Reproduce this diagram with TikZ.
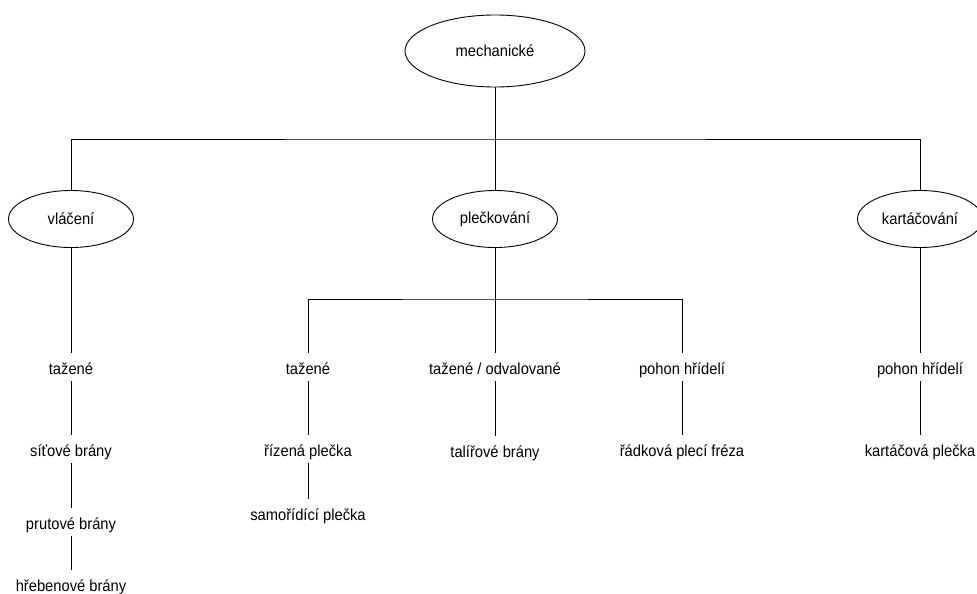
\documentclass[tikz,border=0pt]{standalone}
\usepackage{fontspec}
\setmainfont{Liberation Sans}[FakeStretch=0.92]
\usetikzlibrary{shapes.geometric}
\begin{document}
\begin{tikzpicture}[x=1pt, y=-1pt, line width=0.9pt,
  font=\fontsize{16pt}{19pt}\selectfont,
  oval/.style={ellipse, draw, minimum width=125pt, minimum height=57pt, inner sep=0pt},
  leaf/.style={inner xsep=2pt, inner ysep=5pt, text height=16pt, text depth=2pt}]

% Canvas
\useasboundingbox (0,0) rectangle (977,594);

% === Root ===
\node[oval, minimum width=180pt, minimum height=72pt] (Root) at (495,51) {mechanické};

% === Methods ===
\foreach \txt/\x [count=\i] in {vláčení/71, plečkování/495, kartáčování/920}{
  \node[oval] (Method-\i) at (\x,219) {\txt};
}

% === Vlaceni column ===
\foreach \txt/\y [count=\i] in {tažené/367, síťové brány/449, prutové brány/522, hřebenové brány/584}{
  \node[leaf] (Vlac-\i) at (71,\y) {\txt};
}

% === Pleckovani columns ===
\node[leaf] (Plec-1) at (308,367) {tažené};
\node[leaf] (Plec-2) at (495,367) {tažené / odvalované};
\node[leaf] (Plec-3) at (682,367) {pohon hřídelí};
\node[leaf] (Plec-4) at (308,449) {řízená plečka};
\node[leaf] (Plec-5) at (308,513) {samořídící plečka};
\node[leaf] (Plec-6) at (495,450) {talířové brány};
\node[leaf] (Plec-7) at (682,449) {řádková plecí fréza};

% === Kartacovani column ===
\node[leaf] (Kart-1) at (920,367) {pohon hřídelí};
\node[leaf] (Kart-2) at (920,449) {kartáčová plečka};

% === Connections ===
\coordinate (Bus-1) at (495,139);
\coordinate (Bus-2) at (495,299);

% Root -> methods
\draw (Root) -- (Method-2);
\draw (Method-1) |- (Bus-1) -| (Method-3);

% Vlaceni
\draw (Method-1) -- (Vlac-1);
\foreach \i/\j in {1/2, 2/3, 3/4}{
  \draw (Vlac-\i) -- (Vlac-\j);
}

% Pleckovani
\draw (Method-2) -- (Plec-2);
\draw (Plec-1) |- (Bus-2) -| (Plec-3);
\draw (Plec-1) -- (Plec-4);
\draw (Plec-4) -- (Plec-5);
\draw (Plec-2) -- (Plec-6);
\draw (Plec-3) -- (Plec-7);

% Kartacovani
\draw (Method-3) -- (Kart-1);
\draw (Kart-1) -- (Kart-2);

\end{tikzpicture}
\end{document}
